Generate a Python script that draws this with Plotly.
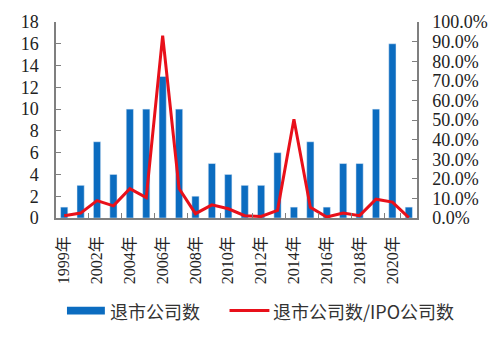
import plotly.graph_objects as go

# Delisted companies per year and the ratio of delistings to IPOs
years = ["1999年"] + [f"{y}年" for y in range(2001, 2022)]
delisted = [1, 3, 7, 4, 10, 10, 13, 10, 2, 5, 4, 3, 3, 6, 1, 7, 1, 5, 5, 10, 16, 1]
ratio_pct = [1.2, 2.5, 8.9, 6.2, 15.0, 10.4, 93.0, 15.0, 2.2, 6.7, 4.7, 1.2,
             0.8, 3.9, 50.4, 5.5, 0.5, 2.5, 1.2, 9.6, 8.1, 0.2]
shown_years = ["1999年", "2002年", "2004年", "2006年", "2008年", "2010年",
               "2012年", "2014年", "2016年", "2018年", "2020年"]
left_ticks = list(range(0, 19, 2))
right_ticks = list(range(0, 101, 10))

BLUE = "#0B6CC0"
RED = "#E8101A"
AXIS = "#7F7F7F"
SERIF = "'Liberation Serif', 'Noto Sans CJK SC', serif"
CJK = "'Noto Sans CJK SC', sans-serif"

fig = go.Figure()
fig.add_trace(go.Bar(x=years, y=delisted, marker_color=BLUE, name="退市公司数",
                     showlegend=False))
fig.add_trace(go.Scatter(x=years, y=ratio_pct, yaxis="y2", mode="lines",
                         line=dict(color=RED, width=3), name="退市公司数/IPO公司数",
                         showlegend=False))

fig.update_layout(
    width=500, height=337,
    margin=dict(l=56, r=82, t=19, b=119),
    paper_bgcolor="white", plot_bgcolor="white",
    bargap=0.56,
    xaxis=dict(
        type="category", tickmode="array", tickvals=shown_years,
        ticktext=shown_years, tickangle=-90,
        tickfont=dict(family=SERIF, size=16, color="#222"),
        showline=True, linecolor=AXIS, linewidth=1.5,
        ticks="inside", ticklen=5, tickcolor=AXIS, tickson="boundaries",
        showgrid=False, zeroline=False, ticklabelstandoff=10,
    ),
    yaxis=dict(
        range=[0, 18], tickvals=left_ticks,
        tickfont=dict(family=SERIF, size=18, color="#222"),
        showline=True, linecolor=AXIS, linewidth=1.5,
        ticks="inside", ticklen=5, tickcolor=AXIS,
        showgrid=False, zeroline=False, ticklabelstandoff=12,
    ),
    yaxis2=dict(
        range=[0, 100], overlaying="y", side="right",
        tickvals=right_ticks, ticktext=[f"{v:.1f}%" for v in right_ticks],
        tickfont=dict(family=SERIF, size=18, color="#222"),
        showline=True, linecolor=AXIS, linewidth=1.5,
        ticks="inside", ticklen=5, tickcolor=AXIS,
        showgrid=False, zeroline=False, ticklabelstandoff=10,
    ),
)

# Legend drawn below the plot
fig.add_shape(type="rect", xref="paper", yref="paper",
              x0=(67 - 56) / 362, x1=(105 - 56) / 362,
              y0=(218 - 316) / 199, y1=(218 - 308) / 199,
              fillcolor=BLUE, line_width=0)
fig.add_annotation(xref="paper", yref="paper", x=(108 - 56) / 362,
                   y=(218 - 312) / 199, text="退市公司数", showarrow=False,
                   xanchor="left", yanchor="middle",
                   font=dict(family=CJK, size=18, color="#333"))
fig.add_shape(type="line", xref="paper", yref="paper",
              x0=(230 - 56) / 362, x1=(270 - 56) / 362,
              y0=(218 - 312) / 199, y1=(218 - 312) / 199,
              line=dict(color=RED, width=3))
fig.add_annotation(xref="paper", yref="paper", x=(272 - 56) / 362,
                   y=(218 - 312) / 199, text="退市公司数/IPO公司数", showarrow=False,
                   xanchor="left", yanchor="middle",
                   font=dict(family=CJK, size=18, color="#333"))

fig.write_html("out.html")
